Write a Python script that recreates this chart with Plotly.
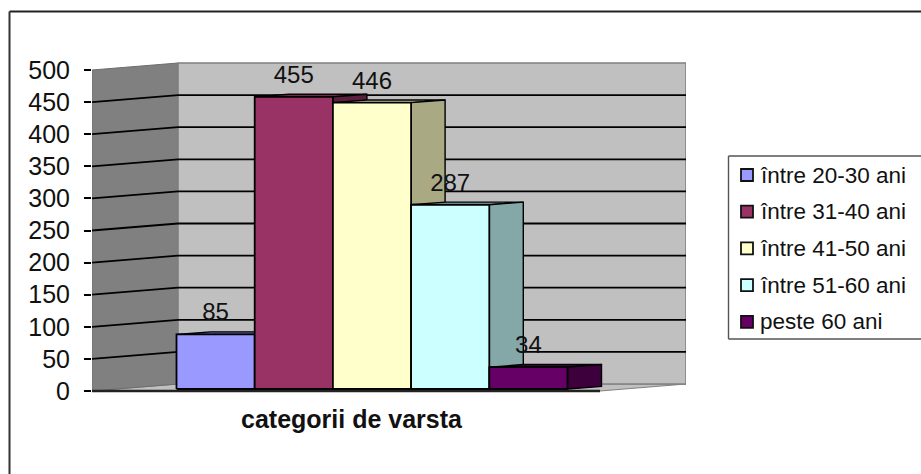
import plotly.graph_objects as go

# ---- data ----
series_names = ["între 20-30 ani", "între 31-40 ani", "între 41-50 ani", "între 51-60 ani", "peste 60 ani"]
series_values = [85, 455, 446, 287, 34]
front_colors = ["#9999ff", "#993366", "#ffffcc", "#ccffff", "#660066"]
side_colors = ["#5c5c99", "#5c1f3d", "#a9a984", "#84a8a8", "#3d003d"]
top_colors = ["#6f6fb8", "#74264d", "#c2c29a", "#8cb0b0", "#4d004d"]
y_ticks = [0, 50, 100, 150, 200, 250, 300, 350, 400, 450, 500]
x_title = "categorii de varsta"

W, H = 921, 474
L, R, T, B = 92, 686, 55, 400      # plot area in page pixels
PX_PER_VALUE = 321 / 500           # vertical scale
PX_PER_BAR = 78.2                  # bar width
ZERO_PX = 391
FIRST_BAR_PX = 176.5
WALL_DX, WALL_DY = 86, 7           # wall depth projection, pixels
BAR_DX, BAR_DY = 34, 2.6           # bar depth projection, pixels
BAR_BASE = 2 / PX_PER_VALUE        # bars stand slightly behind the front edge
LABEL_GAP = 8 / PX_PER_VALUE       # extra room under value labels

x_min = (L - FIRST_BAR_PX) / PX_PER_BAR
x_max = (R - FIRST_BAR_PX) / PX_PER_BAR
y_min = (ZERO_PX - B) / PX_PER_VALUE
y_max = (ZERO_PX - T) / PX_PER_VALUE
x_front_right = x_max - WALL_DX / PX_PER_BAR
wx, wy = WALL_DX / PX_PER_BAR, WALL_DY / PX_PER_VALUE
bx, by = BAR_DX / PX_PER_BAR, BAR_DY / PX_PER_VALUE
y_top = y_ticks[-1]


def poly(xs, ys, fill, line="#000000", width=1.4, dash=None):
    return go.Scatter(x=xs + xs[:1], y=ys + ys[:1], mode="lines", fill="toself", fillcolor=fill,
                      line=dict(color=line, width=width, dash=dash), hoverinfo="skip", showlegend=False)


def seg(xs, ys, color="#000000", width=1.8):
    return go.Scatter(x=xs, y=ys, mode="lines", line=dict(color=color, width=width),
                      hoverinfo="skip", showlegend=False)


fig = go.Figure()
# floor, left wall, back wall
fig.add_trace(poly([x_min, x_min + wx, x_max, x_front_right], [0, wy, wy, 0], "#c0c0c0", "#808080", 1))
fig.add_trace(poly([x_min, x_min + wx, x_min + wx, x_min], [0, wy, y_top + wy, y_top], "#808080", "#6e6e6e", 1))
fig.add_trace(poly([x_min + wx, x_max, x_max, x_min + wx], [wy, wy, y_top + wy, y_top + wy], "#c0c0c0", "#808080", 1.6))
# gridlines
for v in y_ticks[1:-1]:
    fig.add_trace(seg([x_min, x_min + wx, x_max], [v, v + wy, v + wy]))
# bars: top, side and front faces built from the values
for i, v in enumerate(series_values):
    t = v + BAR_BASE
    fig.add_trace(poly([i, i + bx, i + 1 + bx, i + 1], [t, t + by, t + by, t], top_colors[i]))
    fig.add_trace(poly([i + 1, i + 1 + bx, i + 1 + bx, i + 1], [BAR_BASE, BAR_BASE + by, t + by, t], side_colors[i]))
    fig.add_trace(poly([i, i + 1, i + 1, i], [BAR_BASE, BAR_BASE, t, t], front_colors[i], width=1.8))
# front floor edge
fig.add_trace(seg([x_min, x_front_right], [0, 0], "#222222", 2.6))
# value labels
fig.add_trace(go.Scatter(x=[i + 0.5 for i in range(len(series_values))],
                         y=[v + BAR_BASE + LABEL_GAP for v in series_values], mode="text",
                         text=[str(v) for v in series_values], textposition="top center",
                         textfont=dict(family="Liberation Sans", size=24, color="#111111"),
                         hoverinfo="skip", showlegend=False))


def px(x):
    return (x - L) / (R - L)


def py(y):
    return (B - y) / (B - T)


def line_shape(x0, y0, x1, y1, color, width):
    return dict(type="line", xref="paper", yref="paper", x0=px(x0), x1=px(x1), y0=py(y0), y1=py(y1),
                line=dict(color=color, width=width))


shapes = [line_shape(9.5, 11.5, 921, 11.5, "#222222", 2),
          line_shape(9.5, 11.5, 9.5, 474, "#333333", 2),
          line_shape(728.5, 156, 921, 156, "#555555", 1.4),
          line_shape(728.5, 339, 921, 339, "#555555", 1.4),
          line_shape(728.5, 156, 728.5, 339, "#555555", 1.4)]
annotations = []
for i, name in enumerate(series_names):
    cy = 175 + i * 36.7
    shapes.append(dict(type="rect", xref="paper", yref="paper", x0=px(741), x1=px(753), y0=py(cy - 6), y1=py(cy + 6),
                       fillcolor=front_colors[i], line=dict(color="#111111", width=1.8)))
    annotations.append(dict(xref="paper", yref="paper", x=px(758), y=py(cy), text=name, showarrow=False,
                            xanchor="left", yanchor="middle", font=dict(family="Liberation Sans", size=22.5, color="#111111")))
annotations.append(dict(xref="paper", yref="paper", x=px(352), y=py(419), text="<b>" + x_title + "</b>", showarrow=False,
                        xanchor="center", yanchor="middle", font=dict(family="Liberation Sans", size=25, color="#111111")))

fig.update_layout(
    width=W, height=H, margin=dict(l=L, r=W - R, t=T, b=H - B, pad=0),
    paper_bgcolor="#ffffff", plot_bgcolor="rgba(0,0,0,0)", showlegend=False,
    shapes=shapes, annotations=annotations,
    xaxis=dict(range=[x_min, x_max], visible=False, fixedrange=True),
    yaxis=dict(range=[y_min, y_max], tickvals=y_ticks, ticks="outside", ticklen=7, tickcolor="#000000", tickwidth=1.5,
               showgrid=False, zeroline=False, showline=False, ticklabelstandoff=9,
               tickfont=dict(family="Liberation Sans", size=25, color="#111111"), fixedrange=True),
)
fig.write_html("out.html", config=dict(displayModeBar=False),
               post_script="document.documentElement.style.overflow='hidden';document.body.style.overflow='hidden';document.body.style.margin='0';")
